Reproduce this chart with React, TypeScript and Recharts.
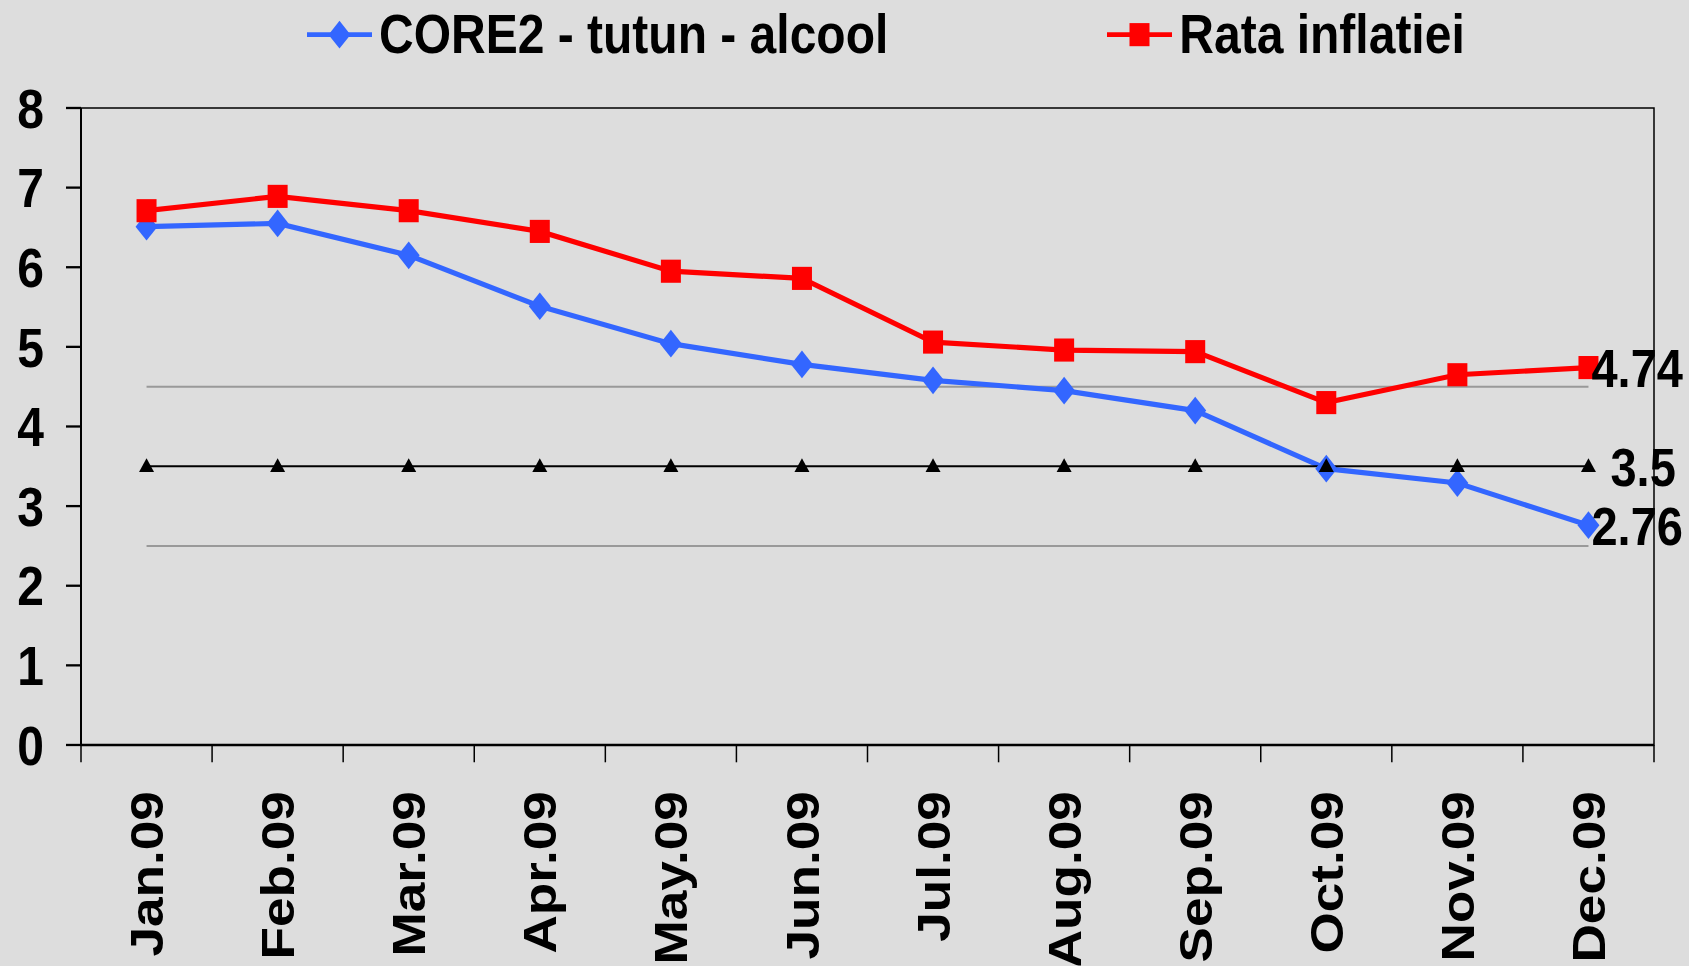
import React from 'react';
import { LineChart, Line, XAxis, YAxis, Legend, ReferenceArea, LabelList } from 'recharts';

const months = ['Jan.09', 'Feb.09', 'Mar.09', 'Apr.09', 'May.09', 'Jun.09', 'Jul.09', 'Aug.09', 'Sep.09', 'Oct.09', 'Nov.09', 'Dec.09'];
const core2 = [6.51, 6.55, 6.15, 5.51, 5.04, 4.78, 4.58, 4.45, 4.2, 3.47, 3.29, 2.76];
const inflation = [6.71, 6.89, 6.71, 6.45, 5.95, 5.86, 5.06, 4.96, 4.94, 4.3, 4.65, 4.74];
const target = [3.5, 3.5, 3.5, 3.5, 3.5, 3.5, 3.5, 3.5, 3.5, 3.5, 3.5, 3.5];
const bandUpper = [4.5, 4.5, 4.5, 4.5, 4.5, 4.5, 4.5, 4.5, 4.5, 4.5, 4.5, 4.5];
const bandLower = [2.5, 2.5, 2.5, 2.5, 2.5, 2.5, 2.5, 2.5, 2.5, 2.5, 2.5, 2.5];
const yTicks = [0, 1, 2, 3, 4, 5, 6, 7, 8];

const data = months.map((m, i) => ({
  month: m,
  core2: core2[i],
  inflation: inflation[i],
  target: target[i],
  upper: bandUpper[i],
  lower: bandLower[i],
}));

// the source picture is stretched vertically, so draw flat and stretch back
const STRETCH = 1.155;
const W = 1689;
const H = 836;
const FONT = "'Liberation Sans', Arial, Helvetica, sans-serif";
const BLUE = '#3366ff';
const RED = '#ff0000';
const X_TICK_SIZE = 15;
const X_TICK_MARGIN = 25;
const LEGEND_H = 60;
const PLOT_TOP = 93.5;

const Diamond = ({ cx, cy, fill }: any) => (
  <polygon points={`${cx},${cy - 12} ${cx + 11},${cy} ${cx},${cy + 12} ${cx - 11},${cy}`} fill={fill} />
);
const Square = ({ cx, cy, fill }: any) => <rect x={cx - 10} y={cy - 10} width={20} height={20} fill={fill} />;
const Triangle = ({ cx, cy }: any) => (
  <polygon points={`${cx},${cy - 7} ${cx + 7.5},${cy + 5} ${cx - 7.5},${cy + 5}`} fill="#000" />
);

const dotDiamond = (p: any) => <Diamond key={p.index} cx={p.cx} cy={p.cy} fill={BLUE} />;
const dotSquare = (p: any) => <Square key={p.index} cx={p.cx} cy={p.cy} fill={RED} />;
const dotTriangle = (p: any) => <Triangle key={p.index} cx={p.cx} cy={p.cy} />;

const lastLabel = (dx: number) => (props: any) => {
  const { x, y, value, index } = props;
  if (index !== months.length - 1) return null;
  return (
    <text x={x + dx} y={y} dy="0.36em" fill="#000" fontSize={47} fontWeight="bold" fontFamily={FONT}>
      {value}
    </text>
  );
};

const XTick = (props: any) => {
  const { x, y, payload, index, visibleTicksCount, width } = props;
  const half = payload.offset ?? width / visibleTicksCount / 2;
  const y1 = y - X_TICK_MARGIN - X_TICK_SIZE;
  const y2 = y - X_TICK_MARGIN;
  const left = payload.coordinate - half;
  return (
    <g>
      <line x1={left} x2={left} y1={y1} y2={y2} stroke="#000" strokeWidth={1.5} />
      {index === visibleTicksCount - 1 && (
        <line x1={payload.coordinate + half} x2={payload.coordinate + half} y1={y1} y2={y2} stroke="#000" strokeWidth={1.5} />
      )}
      <text
        x={x}
        y={y}
        transform={`rotate(-90, ${x}, ${y})`}
        textAnchor="end"
        dy="0.36em"
        fill="#000"
        fontSize={46}
        fontWeight="bold"
        fontFamily={FONT}
      >
        {payload.value}
      </text>
    </g>
  );
};

const legendMarkers: Record<string, any> = {
  core2: (cx: number, cy: number) => <Diamond cx={cx} cy={cy} fill={BLUE} />,
  inflation: (cx: number, cy: number) => <Square cx={cx} cy={cy} fill={RED} />,
};

const renderLegend = (props: any) => {
  const items = (props.payload || []).filter((e: any) => legendMarkers[e.dataKey]);
  return (
    <div style={{ display: 'flex', alignItems: 'center', height: LEGEND_H, paddingLeft: 307, gap: 219, whiteSpace: 'nowrap' }}>
      {items.map((entry: any) => (
        <div key={entry.value} style={{ display: 'flex', alignItems: 'center', flexShrink: 0 }}>
          <svg width={65} height={30}>
            <line x1={0} x2={65} y1={15} y2={15} stroke={entry.color} strokeWidth={4} />
            {legendMarkers[entry.dataKey](32.5, 15)}
          </svg>
          <span
            style={{ marginLeft: 7, fontSize: 48, fontWeight: 'bold', fontFamily: FONT, color: '#000', lineHeight: `${LEGEND_H}px` }}
          >
            {entry.value}
          </span>
        </div>
      ))}
    </div>
  );
};

export default function App() {
  return (
    <div style={{ position: 'absolute', left: 0, top: 0, width: W, height: 966, background: '#dddddd', overflow: 'hidden' }}>
      <div style={{ transform: `scaleY(${STRETCH})`, transformOrigin: '0 0' }}>
        {/* the legend height is measured after the stretch, hence the correction */}
        <LineChart width={W} height={H} data={data} margin={{ top: PLOT_TOP - LEGEND_H * STRETCH, right: 35, bottom: 0, left: 0 }}>
          <ReferenceArea y1={0} y2={8} fill="none" stroke="#000" strokeWidth={1.5} />
          <XAxis
            dataKey="month"
            scale="band"
            height={191}
            interval={0}
            tick={<XTick />}
            tickLine={false}
            tickSize={X_TICK_SIZE}
            tickMargin={X_TICK_MARGIN}
            axisLine={{ stroke: '#000', strokeWidth: 2 }}
          />
          <YAxis
            domain={[0, 8]}
            ticks={yTicks}
            width={81}
            tickSize={15}
            tickMargin={22}
            axisLine={{ stroke: '#000', strokeWidth: 2 }}
            tickLine={{ stroke: '#000', strokeWidth: 2 }}
            tick={{ fill: '#000', fontSize: 48, fontWeight: 'bold', fontFamily: FONT }}
          />
          <Legend verticalAlign="top" align="left" content={renderLegend} wrapperStyle={{ top: 0, left: 0, width: W }} />
          <Line dataKey="upper" stroke="#999999" strokeWidth={1.8} dot={false} legendType="none" isAnimationActive={false} />
          <Line dataKey="lower" stroke="#999999" strokeWidth={1.8} dot={false} legendType="none" isAnimationActive={false} />
          <Line
            dataKey="core2"
            name="CORE2 - tutun - alcool"
            stroke={BLUE}
            strokeWidth={4.5}
            dot={dotDiamond}
            activeDot={false}
            isAnimationActive={false}
          >
            <LabelList dataKey="core2" content={lastLabel(3)} />
          </Line>
          <Line
            dataKey="inflation"
            name="Rata inflatiei"
            stroke={RED}
            strokeWidth={4.5}
            dot={dotSquare}
            activeDot={false}
            isAnimationActive={false}
          >
            <LabelList dataKey="inflation" content={lastLabel(3)} />
          </Line>
          <Line
            dataKey="target"
            stroke="#000"
            strokeWidth={1.8}
            dot={dotTriangle}
            activeDot={false}
            legendType="none"
            isAnimationActive={false}
          >
            <LabelList dataKey="target" content={lastLabel(22)} />
          </Line>
        </LineChart>
      </div>
    </div>
  );
}
